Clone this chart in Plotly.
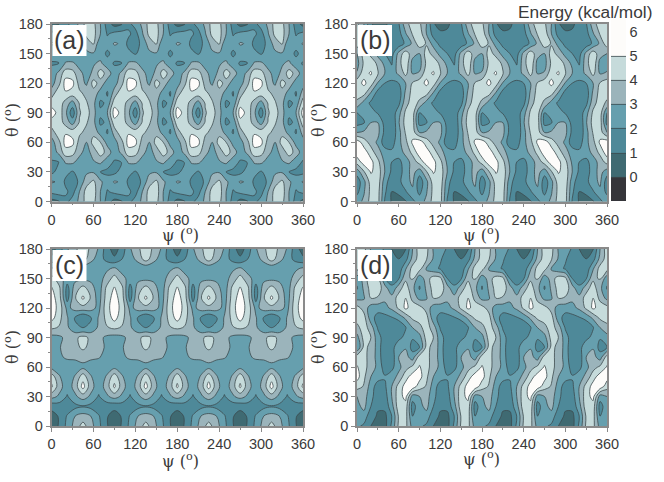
import numpy as np
import plotly.graph_objects as go

W, H = 664, 482
theta_a = list(range(0, 181, 10))
psi_10 = [0, 10, 20, 30, 40, 50, 60, 70, 80]
psi_c = [0, 11.25, 22.5, 33.75, 45, 56.25, 67.5, 78.75]

# one 90-degree repeat of each surface, rows theta = 0..180
energy_a = [
 [0.6,0.9,1.7,2.4,3.2,4.4,4.3,3.0,1.5],
 [2.3,2.5,2.2,1.6,3.0,4.4,4.5,3.0,1.9],
 [3.1,2.9,1.8,1.4,2.2,3.6,4.2,3.2,2.4],
 [1.7,2.4,2.3,1.9,2.4,2.8,2.9,2.0,1.8],
 [1.9,1.95,3.1,3.2,2.6,2.5,2.9,3.2,2.4],
 [2.4,3.2,4.6,4.4,3.3,2.6,3.4,4.5,3.6],
 [2.6,3.6,5.4,5.3,3.6,3.0,4.4,4.0,2.6],
 [3.4,4.7,4.9,4.6,4.2,3.7,3.7,2.6,1.9],
 [4.6,4.7,3.6,2.6,4.1,4.1,3.3,1.8,2.2],
 [5.5,4.7,3.3,1.3,3.9,4.5,3.3,2.2,3.0],
 [4.6,4.7,3.6,2.6,4.1,4.1,3.3,1.8,2.2],
 [3.4,4.7,4.9,4.6,4.2,3.7,3.6,2.6,1.9],
 [2.6,3.6,5.4,5.3,3.6,2.8,4.4,3.6,2.5],
 [2.4,3.2,4.6,4.4,3.3,2.6,3.2,4.5,3.6],
 [1.9,1.95,3.1,3.2,2.6,2.5,2.9,3.2,2.4],
 [2.4,2.4,2.3,1.9,2.4,2.8,2.9,2.5,1.8],
 [3.1,2.9,1.7,1.4,2.4,3.4,4.1,2.0,2.4],
 [2.3,2.4,2.2,1.6,2.9,4.3,4.4,3.0,1.9],
 [0.6,0.9,1.7,2.4,3.2,4.4,4.3,3.0,1.5],
]
energy_b = [
 [2.6,3.2,4.4,4.4,1.9,0.9,0.6,0.9,1.7],
 [1.7,2.9,4.3,4.4,2.2,1.0,1.2,1.9,2.8],
 [1.4,2.7,4.5,4.6,2.4,1.4,1.7,2.6,3.2],
 [2.4,3.9,5.1,4.6,3.0,1.8,1.5,2.5,3.4],
 [4.4,5.5,5.3,4.3,2.8,2.0,1.7,2.5,3.4],
 [5.6,5.5,4.5,3.4,2.5,2.2,2.5,3.3,4.3],
 [5.6,4.5,3.6,2.8,1.4,1.5,2.7,3.7,5.2],
 [3.0,3.2,3.5,3.3,1.7,1.2,2.6,4.1,4.5],
 [1.6,1.9,3.0,3.0,1.6,1.0,2.9,4.4,4.5],
 [2.0,2.3,2.4,1.9,1.5,1.3,2.6,4.2,4.5],
 [3.8,2.6,1.8,1.4,1.1,1.2,1.7,3.6,4.5],
 [4.4,4.4,2.9,1.6,1.4,1.3,1.4,3.2,4.4],
 [4.6,5.2,4.5,2.9,2.0,1.8,2.0,3.0,4.1],
 [3.1,4.7,5.1,4.1,3.0,2.5,3.2,4.3,2.9],
 [2.6,4.2,4.6,3.8,2.7,1.9,3.6,4.8,2.6],
 [3.0,4.4,3.7,2.6,2.0,1.6,3.3,4.6,3.4],
 [4.6,3.9,2.6,1.7,1.5,1.1,1.4,2.2,3.2],
 [4.6,3.0,1.6,1.2,1.2,1.2,1.6,2.9,4.1],
 [4.2,3.0,1.1,0.6,0.8,1.4,1.9,3.6,4.5],
]
energy_c = [
 [0.5,1.1,2.3,3.4,4.4,3.4,2.3,1.1],
 [0.6,1.1,2.1,3.0,3.4,3.0,2.1,1.1],
 [1.3,1.5,1.4,1.7,1.9,1.7,1.4,1.4],
 [3.4,2.8,1.9,2.8,3.5,2.8,1.9,2.8],
 [5.2,3.4,2.4,3.4,5.4,3.4,2.4,3.4],
 [4.6,3.1,2.3,3.1,4.6,3.1,2.3,3.1],
 [2.7,2.5,2.3,2.5,2.7,2.5,2.3,2.5],
 [2.5,2.8,3.2,3.2,3.4,3.2,3.1,2.6],
 [2.5,2.9,3.6,3.7,4.2,3.7,3.7,2.7],
 [2.6,2.8,3.3,3.8,4.3,3.8,3.3,2.8],
 [4.2,3.9,3.2,2.2,2.0,2.2,3.2,3.9],
 [5.4,4.3,3.1,1.9,1.0,1.9,3.1,4.3],
 [5.6,4.6,2.7,3.4,3.6,3.4,2.7,4.6],
 [5.5,4.4,1.6,3.9,5.2,3.9,2.5,4.4],
 [5.1,4.2,1.6,3.5,4.4,3.5,2.4,4.2],
 [4.4,3.4,2.5,2.7,2.7,2.7,2.5,3.4],
 [3.2,2.5,2.3,2.2,2.2,2.2,2.3,2.8],
 [1.2,2.0,2.5,3.4,4.5,3.4,2.5,1.7],
 [0.5,1.5,2.9,3.8,4.6,3.8,2.9,1.5],
]
energy_d = [
 [2.2,1.8,1.0,0.7,0.6,2.2,4.2,4.3,2.6],
 [2.5,2.6,1.3,0.9,0.7,2.0,4.1,4.4,2.0],
 [2.7,3.3,2.0,1.1,1.3,2.6,4.6,4.6,1.5],
 [3.0,3.4,2.4,1.2,1.5,3.0,4.6,5.3,2.5],
 [4.4,3.9,2.5,1.5,1.8,3.0,4.4,5.4,5.6],
 [5.4,4.2,3.0,2.4,2.1,2.5,3.3,4.6,5.5],
 [5.1,4.3,3.6,2.7,1.5,1.7,2.7,3.6,4.2],
 [4.5,4.3,3.6,2.6,1.2,1.4,3.0,3.4,2.5],
 [2.0,4.3,3.7,2.6,1.1,1.4,3.0,2.9,1.6],
 [2.6,4.4,4.0,2.4,1.5,1.6,1.6,2.4,2.1],
 [3.7,4.5,3.5,1.9,1.4,1.2,1.2,1.9,3.0],
 [4.4,4.4,2.4,1.6,1.6,1.9,2.3,3.2,4.2],
 [4.4,3.6,2.5,2.4,2.7,3.2,4.2,5.2,4.6],
 [2.7,2.9,4.0,3.9,3.2,3.4,4.4,5.0,3.7],
 [1.9,3.2,4.4,4.5,3.5,2.2,3.6,4.5,3.3],
 [2.3,3.5,4.5,4.3,2.0,1.6,1.9,3.8,4.1],
 [4.4,2.9,2.3,1.9,1.0,1.2,1.3,2.9,4.4],
 [4.5,4.1,2.9,2.1,1.6,1.1,1.0,1.6,3.3],
 [4.6,4.3,2.9,2.4,1.9,1.0,0.6,0.9,3.0],
]
level_colors = ["#35353a","#3f6a72","#4e8999","#669fae","#9bb4bb","#c6dbdb","#fdfcfa"]
cbar_ticks = [0,1,2,3,4,5,6]
psi_ticks = [0,60,120,180,240,300,360]
theta_ticks = [0,30,60,90,120,150,180]
panel_labels = ["(a)","(b)","(c)","(d)"]

ZMIN, ZMAX = -1.0, 6.57
cs = [[i/6, c] for i, c in enumerate(level_colors)]

def tiled(block, psi):
    arr = np.array(block)
    z = np.hstack([np.tile(arr, (1, 4)), arr[:, :1]])
    x = [p + 90*k for k in range(4) for p in psi] + [360]
    return x, z

px = lambda v: v/W
py = lambda v: 1-v/H

fig = go.Figure()
boxes = [(51.5,303,24,201.5),(357,607,24,201.5),(51.5,303,249,426),(357,607,249,426)]
xtitle_px = [(180,234),(481,234),(180,460),(481,458)]
ytitle_px = [(11,120),(317,120),(11,347),(317,347)]
data = [(energy_a,psi_10),(energy_b,psi_10),(energy_c,psi_c),(energy_d,psi_10)]
anns = []; shapes = []
FONT = "Liberation Sans"; TXT = "#3a3a3a"; AX = "#8a8a8a"
for i,((block,psi),(x0,x1,y0,y1)) in enumerate(zip(data,boxes)):
    n = "" if i==0 else str(i+1)
    x,z = tiled(block,psi)
    tr = dict(x=x,y=theta_a,z=z,xaxis="x"+n,yaxis="y"+n,colorscale=cs,zmin=ZMIN,zmax=ZMAX,
              contours=dict(start=0,end=5,size=1,coloring="fill"),
              line=dict(color="#3c4a4e",width=0.8,smoothing=1),hoverinfo="skip",showscale=False)
    if i==1:
        tr.update(showscale=True,colorbar=dict(
            thickness=15,thicknessmode="pixels",len=183,lenmode="pixels",
            x=px(611),xanchor="left",xpad=0,ypad=0,y=py(18),yanchor="top",
            outlinewidth=0,ticks="",tickvals=cbar_ticks,ticktext=[str(t) for t in cbar_ticks],
            tickfont=dict(family=FONT,size=14.5,color=TXT)))
    fig.add_trace(go.Contour(**tr))
    fig.update_layout({
      "xaxis"+n: dict(domain=[px(x0),px(x1)],range=[0,360],tickvals=psi_ticks,anchor="y"+n,
          ticks="outside",ticklen=4,tickwidth=1,tickcolor=AX,showgrid=False,zeroline=False,
          showline=True,linecolor=AX,linewidth=1.5,mirror=True,
          minor=dict(dtick=30,tick0=0,ticks="outside",ticklen=2,tickcolor=AX,showgrid=False),
          tickfont=dict(family=FONT,size=14.5,color=TXT)),
      "yaxis"+n: dict(domain=[py(y1),py(y0)],range=[0,180],tickvals=theta_ticks,anchor="x"+n,
          ticks="outside",ticklen=4,tickwidth=1,tickcolor=AX,showgrid=False,zeroline=False,
          showline=True,linecolor=AX,linewidth=1.5,mirror=True,
          minor=dict(dtick=15,tick0=0,ticks="outside",ticklen=2,tickcolor=AX,showgrid=False),
          tickfont=dict(family=FONT,size=14.5,color=TXT)),
    })
    shapes.append(dict(type="rect",xref="paper",yref="paper",x0=px(x0+1),x1=px(x0+35),
                       y0=py(y0+32),y1=py(y0+1),fillcolor="white",line=dict(width=0),layer="above"))
    anns.append(dict(text=panel_labels[i],xref="paper",yref="paper",x=px(x0+18),y=py(y0+16),
                     xanchor="center",yanchor="middle",showarrow=False,
                     font=dict(family=FONT,size=25,color=TXT)))
    tx,ty = xtitle_px[i]
    anns.append(dict(text="ψ (<sup>o</sup>)",xref="paper",yref="paper",x=px(tx),y=py(ty),xanchor="center",
                     yanchor="middle",showarrow=False,font=dict(family="DejaVu Serif",size=16,color=TXT)))
    tx,ty = ytitle_px[i]
    anns.append(dict(text="θ (<sup>o</sup>)",xref="paper",yref="paper",x=px(tx),y=py(ty),xanchor="center",
                     yanchor="middle",textangle=-90,showarrow=False,font=dict(family="DejaVu Serif",size=16,color=TXT)))
anns.append(dict(text="Energy (kcal/mol)",xref="paper",yref="paper",x=px(654),y=py(12),xanchor="right",
                 yanchor="middle",showarrow=False,font=dict(family=FONT,size=17.3,color=TXT)))
fig.update_layout(width=W,height=H,margin=dict(l=0,r=0,t=0,b=0,autoexpand=False),paper_bgcolor="white",
                  plot_bgcolor="white",showlegend=False,annotations=anns,shapes=shapes)
fig.write_html("out.html", config={"displayModeBar": False},
               post_script="document.body.style.margin='0';document.documentElement.style.overflow='hidden';")
